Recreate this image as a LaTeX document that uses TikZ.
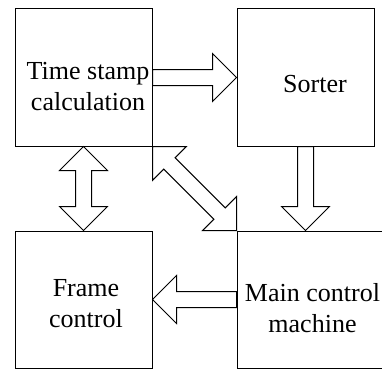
\documentclass[tikz,border=0pt]{standalone}
\usepackage{fontspec}
\setmainfont{Liberation Serif}
\usetikzlibrary{calc}

% block arrow dimensions
\newcommand\headlen{24pt}
\newcommand\headhw{24pt}
\newcommand\shafthw{8pt}

% single-headed block arrow from #1 to #2
\newcommand\blockone[2]{%
  \coordinate (hb) at ($(#2)!\headlen!(#1)$);
  \draw[blockarrow] ($(#1)!\shafthw!90:(#2)$) -- ($(hb)!\shafthw!90:(#2)$)
    -- ($(hb)!\headhw!90:(#2)$) -- (#2) -- ($(hb)!\headhw!-90:(#2)$)
    -- ($(hb)!\shafthw!-90:(#2)$) -- ($(#1)!\shafthw!-90:(#2)$) -- cycle;}

% double-headed block arrow between #1 and #2
\newcommand\blocktwo[2]{%
  \coordinate (ha) at ($(#1)!\headlen!(#2)$);
  \coordinate (hb) at ($(#2)!\headlen!(#1)$);
  \draw[blockarrow] (#1) -- ($(ha)!\headhw!90:(#2)$) -- ($(ha)!\shafthw!90:(#2)$)
    -- ($(hb)!\shafthw!90:(#2)$) -- ($(hb)!\headhw!90:(#2)$) -- (#2)
    -- ($(hb)!\headhw!-90:(#2)$) -- ($(hb)!\shafthw!-90:(#2)$)
    -- ($(ha)!\shafthw!-90:(#2)$) -- ($(ha)!\headhw!-90:(#2)$) -- cycle;}

\begin{document}
\begin{tikzpicture}[x=1pt, y=-1pt,
  box/.style={draw, line width=1pt, minimum width=137pt, minimum height=137pt, inner sep=0pt},
  boxtext/.style={inner sep=0pt, align=center, font=\fontsize{26}{31}\selectfont},
  blockarrow/.style={draw, line width=1pt, line join=miter}]
  \useasboundingbox (0,0) rectangle (382,369);
  \clip (0,0) rectangle (382,369);

  % blocks
  \node[box] (ts) at (83.5,77.5) {};
  \node[box] (sorter) at (305.5,77.5) {};
  \node[box] (frame) at (83.5,299.5) {};
  \node[box, minimum width=170pt] (main) at (322,299.5) {};

  % block titles
  \node[boxtext] (tstext) at (88,86.5) {Time stamp\\calculation};
  \node[boxtext, anchor=base] (sortertext) at (315,92) {Sorter};
  \node[boxtext] (frametext) at (86,304) {Frame\\control};
  \node[boxtext] (maintext) at (312.5,308.5) {Main control\\machine};

  % connector end points
  \coordinate (sm) at (sorter.south |- main.north);
  \coordinate (mf) at (main.west |- frame.east);

  % block arrows
  \blockone{ts.east}{sorter.west}
  \blockone{sorter.south}{sm}
  \blockone{mf}{frame.east}
  \blocktwo{ts.south}{frame.north}
  \blocktwo{ts.south east}{main.north west}
\end{tikzpicture}
\end{document}
